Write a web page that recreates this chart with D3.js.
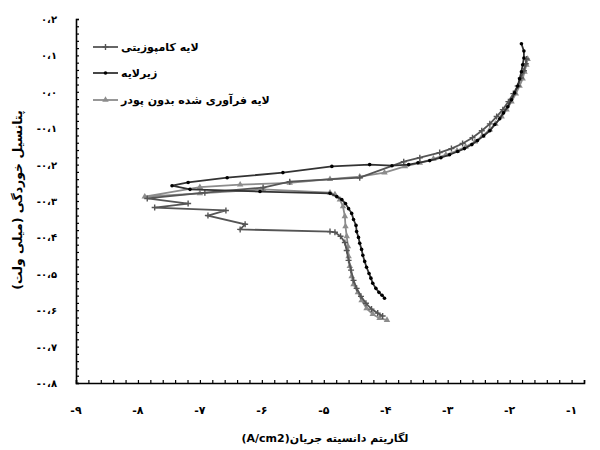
<!DOCTYPE html>
<html>
<head>
<meta charset="utf-8">
<script src="https://cdn.jsdelivr.net/npm/d3@7"></script>
<style>
  body { margin: 0; background: #fff; }
  text { font-family: "DejaVu Sans", sans-serif; font-weight: bold; }
</style>
</head>
<body>
<svg width="600" height="450"></svg>
<script>
// series: [log i, E] pairs
const substrate = [
  [-4.02,-0.567],[-4.06,-0.559],[-4.11,-0.551],[-4.16,-0.540],[-4.21,-0.526],[-4.24,-0.512],
  [-4.27,-0.499],[-4.31,-0.482],[-4.34,-0.466],[-4.37,-0.449],[-4.39,-0.433],[-4.42,-0.416],
  [-4.44,-0.400],[-4.47,-0.384],[-4.48,-0.367],[-4.52,-0.351],[-4.55,-0.334],[-4.60,-0.321],
  [-4.65,-0.307],[-4.71,-0.296],[-4.79,-0.288],[-4.90,-0.279],
  [-6.03,-0.274],[-7.16,-0.268],[-7.45,-0.258],[-7.19,-0.249],
  [-6.56,-0.236],[-5.66,-0.222],[-4.87,-0.205],[-4.26,-0.200],[-3.90,-0.203],[-3.63,-0.200],
  [-3.48,-0.195],[-3.29,-0.189],[-3.11,-0.181],[-2.97,-0.173],[-2.84,-0.164],
  [-2.73,-0.156],[-2.61,-0.145],[-2.52,-0.134],[-2.42,-0.121],[-2.32,-0.107],[-2.24,-0.090],
  [-2.16,-0.074],[-2.10,-0.058],[-2.03,-0.041],[-1.97,-0.022],[-1.92,-0.003],[-1.87,0.016],
  [-1.84,0.036],[-1.81,0.055],[-1.79,0.074],[-1.77,0.093],[-1.77,0.112],[-1.81,0.132]
];

const composite = [
  [-4.05,-0.616],[-4.13,-0.608],[-4.23,-0.597],[-4.32,-0.581],[-4.40,-0.562],[-4.47,-0.540],
  [-4.52,-0.518],[-4.56,-0.490],[-4.60,-0.463],[-4.63,-0.436],[-4.66,-0.414],[-4.73,-0.397],
  [-4.82,-0.386],[-4.90,-0.384],
  [-6.35,-0.378],[-6.27,-0.364],[-6.87,-0.340],[-6.58,-0.326],[-7.73,-0.318],[-7.19,-0.307],
  [-7.85,-0.293],
  [-6.92,-0.277],[-5.98,-0.263],[-5.55,-0.247],[-4.42,-0.236],[-3.71,-0.192],
  [-3.45,-0.181],[-3.13,-0.167],[-2.94,-0.156],[-2.76,-0.142],[-2.60,-0.126],[-2.45,-0.107],
  [-2.32,-0.088],[-2.21,-0.068],[-2.11,-0.049],[-2.02,-0.027],[-1.94,-0.005],[-1.87,0.016],
  [-1.82,0.038],[-1.77,0.058],[-1.74,0.077],[-1.73,0.090]
];

const processed = [
  [-3.98,-0.627],[-4.10,-0.622],[-4.21,-0.611],[-4.31,-0.595],[-4.39,-0.573],[-4.45,-0.551],
  [-4.52,-0.529],[-4.55,-0.507],[-4.58,-0.479],[-4.60,-0.452],[-4.61,-0.425],[-4.63,-0.397],
  [-4.65,-0.370],[-4.66,-0.342],[-4.69,-0.315],[-4.74,-0.296],[-4.82,-0.282],[-4.90,-0.277],
  [-5.98,-0.268],[-7.00,-0.279],[-7.89,-0.288],
  [-7.00,-0.262],[-6.35,-0.255],[-5.55,-0.250],[-4.90,-0.240],[-4.42,-0.233],[-4.02,-0.222],
  [-3.69,-0.205],[-3.45,-0.195],[-3.23,-0.184],[-3.03,-0.173],[-2.85,-0.162],[-2.71,-0.151],
  [-2.56,-0.137],[-2.44,-0.121],[-2.32,-0.104],[-2.23,-0.088],[-2.13,-0.068],[-2.05,-0.049],
  [-1.97,-0.027],[-1.90,-0.005],[-1.84,0.016],[-1.79,0.036],[-1.76,0.055],[-1.73,0.074],
  [-1.71,0.090]
];

const legendNames = ["لایه کامپوزیتی", "زیرلایه", "لایه فرآوری شده بدون پودر"];
const xTicks = [-9, -8, -7, -6, -5, -4, -3, -2, -1];
const yTicks = [0.2, 0.1, 0, -0.1, -0.2, -0.3, -0.4, -0.5, -0.6, -0.7, -0.8];

const faDigits = s => s.replace(/[0-9]/g, d => "۰۱۲۳۴۵۶۷۸۹"[d]);
const faInt = n => (n < 0 ? "-" : "") + faDigits(String(Math.abs(n)));
const faDec = n => (n < -1e-9 ? "-" : "") + faDigits(Math.abs(n).toFixed(1)).replace(".", "،");

const svg = d3.select("svg");

const x = d3.scaleLinear().domain([-9, -0.8]).range([76, 584]);
const y = d3.scaleLinear().domain([-0.8, 0.2]).range([383, 19]);

// axes with inward ticks
const xAxis = svg.append("g").attr("transform", "translate(0,383)")
  .call(d3.axisTop(x).tickValues(d3.range(-9, -0.79, 0.2)).tickSize(3).tickFormat(""));
const yAxis = svg.append("g").attr("transform", "translate(76,0)")
  .call(d3.axisRight(y).tickValues(d3.range(-0.8, 0.201, 0.02)).tickSize(3).tickFormat(""));
[xAxis, yAxis].forEach(g => {
  g.select(".domain").attr("stroke", "#000").attr("stroke-width", 1.6);
  g.selectAll(".tick line").attr("stroke", "#000").attr("stroke-width", 1.2);
});

svg.append("g").selectAll("text").data(xTicks).join("text")
  .attr("x", d => x(d)).attr("y", 414)
  .attr("text-anchor", "middle").attr("font-size", 11)
  .text(d => faInt(d));

svg.append("g").selectAll("text").data(yTicks).join("text")
  .attr("x", 57).attr("y", d => y(d) + 4)
  .attr("text-anchor", "end").attr("font-size", 10)
  .text(d => faDec(d));

svg.append("text")
  .attr("x", 325).attr("y", 442)
  .attr("direction", "rtl").attr("text-anchor", "middle").attr("font-size", 11)
  .text("لگاریتم  دانسیته جریان(A/cm2)");

svg.append("text")
  .attr("transform", "translate(22,200) rotate(-90)")
  .attr("direction", "rtl").attr("text-anchor", "middle").attr("font-size", 12.5)
  .text("پتانسیل خوردگی (میلی ولت)");

const line = d3.line().x(d => x(d[0])).y(d => y(d[1]));

const series = [
  { data: composite, color: "#555", marker: "plus" },
  { data: substrate, color: "#333", marker: "dot" },
  { data: processed, color: "#8c8c8c", marker: "tri" }
];

const tri = d3.symbol(d3.symbolTriangle).size(18)();

function drawMarker(sel, s) {
  if (s.marker === "dot") {
    sel.append("circle").attr("r", 1.8).attr("fill", "#000");
  } else if (s.marker === "plus") {
    sel.append("path").attr("d", "M-3,0H3M0,-3V3")
      .attr("stroke", s.color).attr("stroke-width", 1.4);
  } else {
    sel.append("path").attr("d", tri).attr("fill", s.color);
  }
}

// draw processed first so darker series sit on top
[2, 0, 1].forEach(i => {
  const s = series[i];
  svg.append("path").datum(s.data)
    .attr("d", line).attr("fill", "none")
    .attr("stroke", s.color).attr("stroke-width", 1.8);
  svg.append("g").selectAll("g").data(s.data).join("g")
    .attr("transform", d => `translate(${x(d[0])},${y(d[1])})`)
    .each(function () { drawMarker(d3.select(this), s); });
});

// legend
const legend = svg.append("g").selectAll("g").data(series).join("g")
  .attr("transform", (d, i) => `translate(93,${[47, 73, 100][i]})`);
legend.append("line").attr("x1", 0).attr("x2", 25)
  .attr("stroke", d => d.color).attr("stroke-width", 1.8);
legend.append("g").attr("transform", "translate(12.5,0)")
  .each(function (d) { drawMarker(d3.select(this), d); });
legend.append("text").attr("x", 28).attr("y", 4).attr("font-size", 11)
  .text((d, i) => legendNames[i]);
</script>
</body>
</html>
